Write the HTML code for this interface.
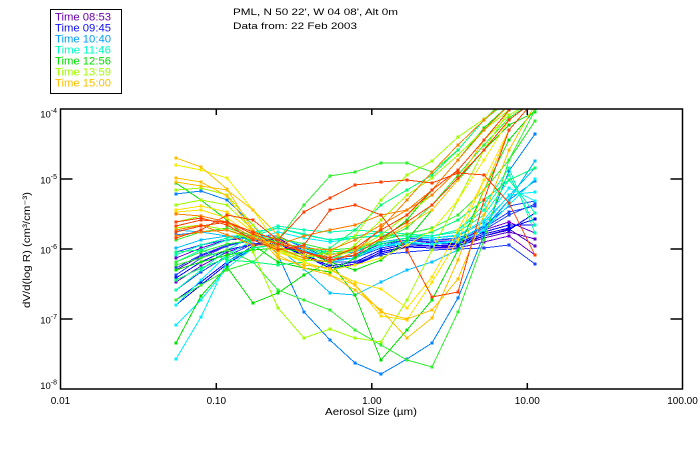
<!DOCTYPE html>
<html>
<head>
<meta charset="utf-8">
<style>
html,body{margin:0;padding:0;background:#fff;}
svg{display:block;}
text{font-family:"Liberation Sans",sans-serif;fill:#000;}
polyline{fill:none;stroke-width:1;}
.c0{stroke:#5a00c8;marker-start:url(#m0);marker-mid:url(#m0);marker-end:url(#m0)}
.c1{stroke:#7000d8;marker-start:url(#m1);marker-mid:url(#m1);marker-end:url(#m1)}
.c2{stroke:#0000ff;marker-start:url(#m2);marker-mid:url(#m2);marker-end:url(#m2)}
.c3{stroke:#2040ff;marker-start:url(#m3);marker-mid:url(#m3);marker-end:url(#m3)}
.c4{stroke:#0080ff;marker-start:url(#m4);marker-mid:url(#m4);marker-end:url(#m4)}
.c5{stroke:#00c0ff;marker-start:url(#m5);marker-mid:url(#m5);marker-end:url(#m5)}
.c6{stroke:#00f0ff;marker-start:url(#m6);marker-mid:url(#m6);marker-end:url(#m6)}
.c7{stroke:#00ffb0;marker-start:url(#m7);marker-mid:url(#m7);marker-end:url(#m7)}
.c8{stroke:#00e000;marker-start:url(#m8);marker-mid:url(#m8);marker-end:url(#m8)}
.c9{stroke:#30f030;marker-start:url(#m9);marker-mid:url(#m9);marker-end:url(#m9)}
.c10{stroke:#00ff70;marker-start:url(#m10);marker-mid:url(#m10);marker-end:url(#m10)}
.c11{stroke:#a0ff00;marker-start:url(#m11);marker-mid:url(#m11);marker-end:url(#m11)}
.c12{stroke:#ffe000;marker-start:url(#m12);marker-mid:url(#m12);marker-end:url(#m12)}
.c13{stroke:#ffc000;marker-start:url(#m13);marker-mid:url(#m13);marker-end:url(#m13)}
.c14{stroke:#ff8000;marker-start:url(#m14);marker-mid:url(#m14);marker-end:url(#m14)}
.c15{stroke:#ff4000;marker-start:url(#m15);marker-mid:url(#m15);marker-end:url(#m15)}
.c16{stroke:#f0f000;marker-start:url(#m16);marker-mid:url(#m16);marker-end:url(#m16)}
</style>
</head>
<body>
<svg width="700" height="450" viewBox="0 0 700 450" xmlns="http://www.w3.org/2000/svg">
<defs>
<clipPath id="plot"><rect x="61" y="109" width="621" height="280"/></clipPath>
<marker id="m0" markerUnits="userSpaceOnUse" markerWidth="3" markerHeight="3" refX="1.5" refY="1.5"><rect width="3" height="3" fill="#5a00c8"/></marker>
<marker id="m1" markerUnits="userSpaceOnUse" markerWidth="3" markerHeight="3" refX="1.5" refY="1.5"><rect width="3" height="3" fill="#7000d8"/></marker>
<marker id="m2" markerUnits="userSpaceOnUse" markerWidth="3" markerHeight="3" refX="1.5" refY="1.5"><rect width="3" height="3" fill="#0000ff"/></marker>
<marker id="m3" markerUnits="userSpaceOnUse" markerWidth="3" markerHeight="3" refX="1.5" refY="1.5"><rect width="3" height="3" fill="#2040ff"/></marker>
<marker id="m4" markerUnits="userSpaceOnUse" markerWidth="3" markerHeight="3" refX="1.5" refY="1.5"><rect width="3" height="3" fill="#0080ff"/></marker>
<marker id="m5" markerUnits="userSpaceOnUse" markerWidth="3" markerHeight="3" refX="1.5" refY="1.5"><rect width="3" height="3" fill="#00c0ff"/></marker>
<marker id="m6" markerUnits="userSpaceOnUse" markerWidth="3" markerHeight="3" refX="1.5" refY="1.5"><rect width="3" height="3" fill="#00f0ff"/></marker>
<marker id="m7" markerUnits="userSpaceOnUse" markerWidth="3" markerHeight="3" refX="1.5" refY="1.5"><rect width="3" height="3" fill="#00ffb0"/></marker>
<marker id="m8" markerUnits="userSpaceOnUse" markerWidth="3" markerHeight="3" refX="1.5" refY="1.5"><rect width="3" height="3" fill="#00e000"/></marker>
<marker id="m9" markerUnits="userSpaceOnUse" markerWidth="3" markerHeight="3" refX="1.5" refY="1.5"><rect width="3" height="3" fill="#30f030"/></marker>
<marker id="m10" markerUnits="userSpaceOnUse" markerWidth="3" markerHeight="3" refX="1.5" refY="1.5"><rect width="3" height="3" fill="#00ff70"/></marker>
<marker id="m11" markerUnits="userSpaceOnUse" markerWidth="3" markerHeight="3" refX="1.5" refY="1.5"><rect width="3" height="3" fill="#a0ff00"/></marker>
<marker id="m12" markerUnits="userSpaceOnUse" markerWidth="3" markerHeight="3" refX="1.5" refY="1.5"><rect width="3" height="3" fill="#ffe000"/></marker>
<marker id="m13" markerUnits="userSpaceOnUse" markerWidth="3" markerHeight="3" refX="1.5" refY="1.5"><rect width="3" height="3" fill="#ffc000"/></marker>
<marker id="m14" markerUnits="userSpaceOnUse" markerWidth="3" markerHeight="3" refX="1.5" refY="1.5"><rect width="3" height="3" fill="#ff8000"/></marker>
<marker id="m15" markerUnits="userSpaceOnUse" markerWidth="3" markerHeight="3" refX="1.5" refY="1.5"><rect width="3" height="3" fill="#ff4000"/></marker>
<marker id="m16" markerUnits="userSpaceOnUse" markerWidth="3" markerHeight="3" refX="1.5" refY="1.5"><rect width="3" height="3" fill="#f0f000"/></marker>
</defs>

<rect x="50.5" y="9.5" width="71" height="84" fill="none" stroke="#000" stroke-width="1"/>
<g font-size="11">
<text x="55" y="20.7" textLength="56" lengthAdjust="spacingAndGlyphs" style="fill:#6a00b0">Time 08:53</text>
<text x="55" y="31.7" textLength="56" lengthAdjust="spacingAndGlyphs" style="fill:#1010ff">Time 09:45</text>
<text x="55" y="42.7" textLength="56" lengthAdjust="spacingAndGlyphs" style="fill:#00a0ff">Time 10:40</text>
<text x="55" y="53.7" textLength="56" lengthAdjust="spacingAndGlyphs" style="fill:#00ffc0">Time 11:46</text>
<text x="55" y="64.7" textLength="56" lengthAdjust="spacingAndGlyphs" style="fill:#00e000">Time 12:56</text>
<text x="55" y="75.7" textLength="56" lengthAdjust="spacingAndGlyphs" style="fill:#a0ff00">Time 13:59</text>
<text x="55" y="86.7" textLength="56" lengthAdjust="spacingAndGlyphs" style="fill:#ffc000">Time 15:00</text>
</g>

<text x="233" y="15" font-size="9.5" textLength="165" lengthAdjust="spacingAndGlyphs">PML, N 50 22', W 04 08', Alt 0m</text>
<text x="233" y="29" font-size="9.5" textLength="124" lengthAdjust="spacingAndGlyphs">Data from: 22 Feb 2003</text>

<g clip-path="url(#plot)" shape-rendering="crispEdges">
<polyline class="c0" points="176,262 201,250 227,240 253,236 278,238 304,252 330,262 355,258 381,246 407,240 432,243 458,244 484,236 509,229 535,246"/>
<polyline class="c0" points="176,270 201,256 227,246 253,240 278,242 304,255 330,266 355,262 381,250 407,244 432,246 458,246 484,238 509,232 535,239"/>
<polyline class="c1" points="176,258 201,248 227,240 253,238 278,240 304,250 330,258 355,255 381,244 407,238 432,240 458,240 484,230 509,222 535,233"/>
<polyline class="c1" points="176,282 201,266 227,252 253,244 278,244 304,256 330,268 355,264 381,252 407,247 432,248 458,248 484,242 509,236 535,255"/>
<polyline class="c2" points="176,300 201,282 227,262 253,246 278,242 304,254 330,266 355,262 381,250 407,244 432,244 458,243 484,232 509,225 535,225"/>
<polyline class="c2" points="176,305 201,285 227,264 253,248 278,244 304,256 330,268 355,265 381,252 407,246 432,246 458,244 484,234 509,228 535,219"/>
<polyline class="c2" points="176,278 201,262 227,250 253,244 278,244 304,255 330,268 355,265 381,254 407,247 432,248 458,246 484,236 509,230 535,213"/>
<polyline class="c3" points="176,275 201,258 227,246 253,240 278,240 304,252 330,262 355,258 381,246 407,242 432,244 458,242 484,230 509,215 535,204"/>
<polyline class="c3" points="176,252 201,245 227,240 253,236 278,236 304,248 330,258 355,255 381,244 407,240 432,242 458,241 484,228 509,212 535,206"/>
<polyline class="c3" points="176,290 201,272 227,256 253,244 278,240 304,250 330,260 355,258 381,248 407,243 432,244 458,240 484,226 509,206 535,201"/>
<polyline class="c3" points="176,268 201,255 227,245 253,240 278,240 304,250 330,262 355,262 381,255 407,252 432,250 458,249 484,248 509,245 535,264"/>
<polyline class="c4" points="176,194 201,191 227,200 253,225 278,255 304,312 330,340 355,363 381,374 407,359 432,343 458,298 484,235 509,171 535,134"/>
<polyline class="c4" points="176,235 201,232 227,236 253,238 278,242 304,248 330,258 355,256 381,246 407,240 432,240 458,238 484,228 509,200 535,181"/>
<polyline class="c5" points="176,248 201,240 227,236 253,236 278,238 304,246 330,254 355,252 381,242 407,238 432,238 458,236 484,222 509,196 535,168"/>
<polyline class="c5" points="176,230 201,232 227,236 253,240 278,248 304,269 330,293 355,295 381,282 407,270 432,262 458,250 484,230 509,200 535,161"/>
<polyline class="c6" points="176,359 201,317 227,262 253,248 278,245 304,250 330,258 355,255 381,246 407,244 432,244 458,242 484,230 509,205 535,179"/>
<polyline class="c6" points="176,325 201,300 227,268 253,248 278,244 304,252 330,262 355,258 381,246 407,242 432,244 458,240 484,225 509,195 535,192"/>
<polyline class="c6" points="176,305 201,280 227,255 253,240 278,232 304,238 330,242 355,238 381,235 407,236 432,238 458,235 484,220 509,188 535,201"/>
<polyline class="c7" points="176,290 201,270 227,250 253,236 278,228 304,235 330,240 355,236 381,232 407,234 432,236 458,232 484,215 509,180 535,213"/>
<polyline class="c7" points="176,262 201,250 227,240 253,234 278,226 304,230 330,232 355,230 381,232 407,234 432,236 458,230 484,210 509,175 535,225"/>
<polyline class="c7" points="176,255 201,245 227,238 253,232 278,228 304,234 330,240 355,238 381,236 407,236 432,236 458,230 484,205 509,168 535,233"/>
<polyline class="c8" points="176,183 201,200 227,220 253,245 278,262 304,268 330,272 355,258 381,240 407,220 432,190 458,160 484,128 509,105 535,90"/>
<polyline class="c8" points="176,343 201,296 227,267 253,303 278,293 304,275 330,262 355,295 381,360 407,330 432,300 458,250 484,190 509,140 535,110"/>
<polyline class="c8" points="176,270 201,262 227,255 253,250 278,248 304,252 330,262 355,270 381,260 407,240 432,210 458,180 484,150 509,125 535,112"/>
<polyline class="c9" points="176,240 201,232 227,228 253,236 278,242 304,248 330,255 355,250 381,240 407,228 432,205 458,175 484,145 509,118 535,100"/>
<polyline class="c9" points="176,300 201,285 227,270 253,262 278,240 304,205 330,176 355,172 381,163 407,163 432,172 458,150 484,120 509,95 535,80"/>
<polyline class="c9" points="176,265 201,258 227,250 253,262 278,290 304,300 330,310 355,330 381,345 407,360 432,367 458,312 484,240 509,160 535,110"/>
<polyline class="c9" points="176,262 201,252 227,244 253,240 278,238 304,244 330,250 355,248 381,240 407,234 432,228 458,215 484,190 509,160 535,121"/>
<polyline class="c10" points="176,280 201,268 227,258 253,248 278,244 304,248 330,252 355,250 381,244 407,238 432,232 458,220 484,200 509,180 535,168"/>
<polyline class="c10" points="176,252 201,250 227,260 253,262 278,265 304,262 330,248 355,230 381,205 407,190 432,175 458,150 484,120 509,100 535,85"/>
<polyline class="c11" points="176,222 201,216 227,222 253,252 278,308 304,338 330,329 355,338 381,342 407,300 432,250 458,200 484,150 509,110 535,90"/>
<polyline class="c11" points="176,190 201,188 227,195 253,225 278,250 304,258 330,252 355,236 381,200 407,175 432,161 458,137 484,119 509,100 535,85"/>
<polyline class="c11" points="176,205 201,200 227,205 253,230 278,252 304,260 330,262 355,245 381,220 407,195 432,178 458,155 484,130 509,110 535,95"/>
<polyline class="c11" points="176,228 201,225 227,230 253,240 278,250 304,255 330,258 355,250 381,235 407,215 432,195 458,170 484,140 509,115 535,100"/>
<polyline class="c12" points="176,210 201,206 227,212 253,232 278,250 304,262 330,270 355,282 381,289 407,308 432,277 458,230 484,180 509,130 535,100"/>
<polyline class="c12" points="176,212 201,210 227,218 253,236 278,252 304,262 330,275 355,285 381,316 407,320 432,282 458,240 484,180 509,130 535,100"/>
<polyline class="c16" points="176,165 201,170 227,178 253,210 278,245 304,262 330,270 355,265 381,258 407,245 432,230 458,200 484,160 509,120 535,100"/>
<polyline class="c13" points="176,158 201,167 227,189 253,230 278,255 304,268 330,275 355,290 381,310 407,338 432,318 458,260 484,190 509,130 535,100"/>
<polyline class="c13" points="176,178 201,182 227,196 253,232 278,258 304,265 330,268 355,285 381,312 407,319 432,310 458,279 484,215 509,150 535,105"/>
<polyline class="c13" points="176,182 201,186 227,190 253,210 278,235 304,256 330,255 355,248 381,240 407,225 432,210 458,180 484,140 509,110 535,90"/>
<polyline class="c14" points="176,214 201,216 227,222 253,238 278,244 304,248 330,250 355,240 381,225 407,210 432,190 458,160 484,130 509,105 535,90"/>
<polyline class="c14" points="176,236 201,232 227,230 253,238 278,248 304,258 330,262 355,252 381,228 407,200 432,172 458,145 484,120 509,98 535,85"/>
<polyline class="c14" points="176,230 201,225 227,235 253,245 278,245 304,236 330,230 355,225 381,215 407,210 432,195 458,170 484,140 509,110 535,95"/>
<polyline class="c15" points="176,238 201,230 227,215 253,220 278,240 304,212 330,198 355,185 381,182 407,180 432,183 458,173 484,175 509,203 535,255"/>
<polyline class="c15" points="176,222 201,218 227,225 253,240 278,250 304,245 330,210 355,205 381,215 407,250 432,297 458,292 484,200 509,130 535,100"/>
<polyline class="c15" points="176,226 201,220 227,222 253,232 278,240 304,252 330,258 355,248 381,230 407,215 432,190 458,170 484,140 509,110 535,88"/>
<polyline class="c15" points="176,232 201,226 227,222 253,234 278,244 304,252 330,260 355,255 381,238 407,222 432,205 458,178 484,150 509,120 535,100"/>
</g>

<g stroke="#000" stroke-width="1.5" fill="none">
<rect x="60.5" y="109" width="622" height="280"/>
<path d="M60.5 179H72.5M60.5 249H72.5M60.5 319H72.5"/>
<path d="M682.5 179H670.5M682.5 249H670.5M682.5 319H670.5"/>
<path d="M216.3 389V383M371.8 389V383M527.3 389V383"/>
<path d="M216.3 109V115M371.8 109V115M527.3 109V115"/>
</g>

<g font-size="9.5" text-anchor="end">
<text x="57" y="117.5">10<tspan font-size="7" dy="-4.5">-4</tspan></text>
<text x="57" y="183.5">10<tspan font-size="7" dy="-4.5">-5</tspan></text>
<text x="57" y="253.5">10<tspan font-size="7" dy="-4.5">-6</tspan></text>
<text x="57" y="323.5">10<tspan font-size="7" dy="-4.5">-7</tspan></text>
<text x="57" y="389">10<tspan font-size="7" dy="-4.5">-8</tspan></text>
</g>

<g font-size="10" text-anchor="middle">
<text x="60.5" y="404">0.01</text>
<text x="216.3" y="404">0.10</text>
<text x="371.8" y="404">1.00</text>
<text x="527.3" y="404">10.00</text>
<text x="682.5" y="404">100.00</text>
</g>

<text x="325" y="415" font-size="10" textLength="92" lengthAdjust="spacingAndGlyphs">Aerosol Size (µm)</text>
<text transform="translate(30,308) rotate(-90)" font-size="10" textLength="116" lengthAdjust="spacingAndGlyphs">dV/d(log R)  (cm³/cm⁻³)</text>
</svg>
</body>
</html>
